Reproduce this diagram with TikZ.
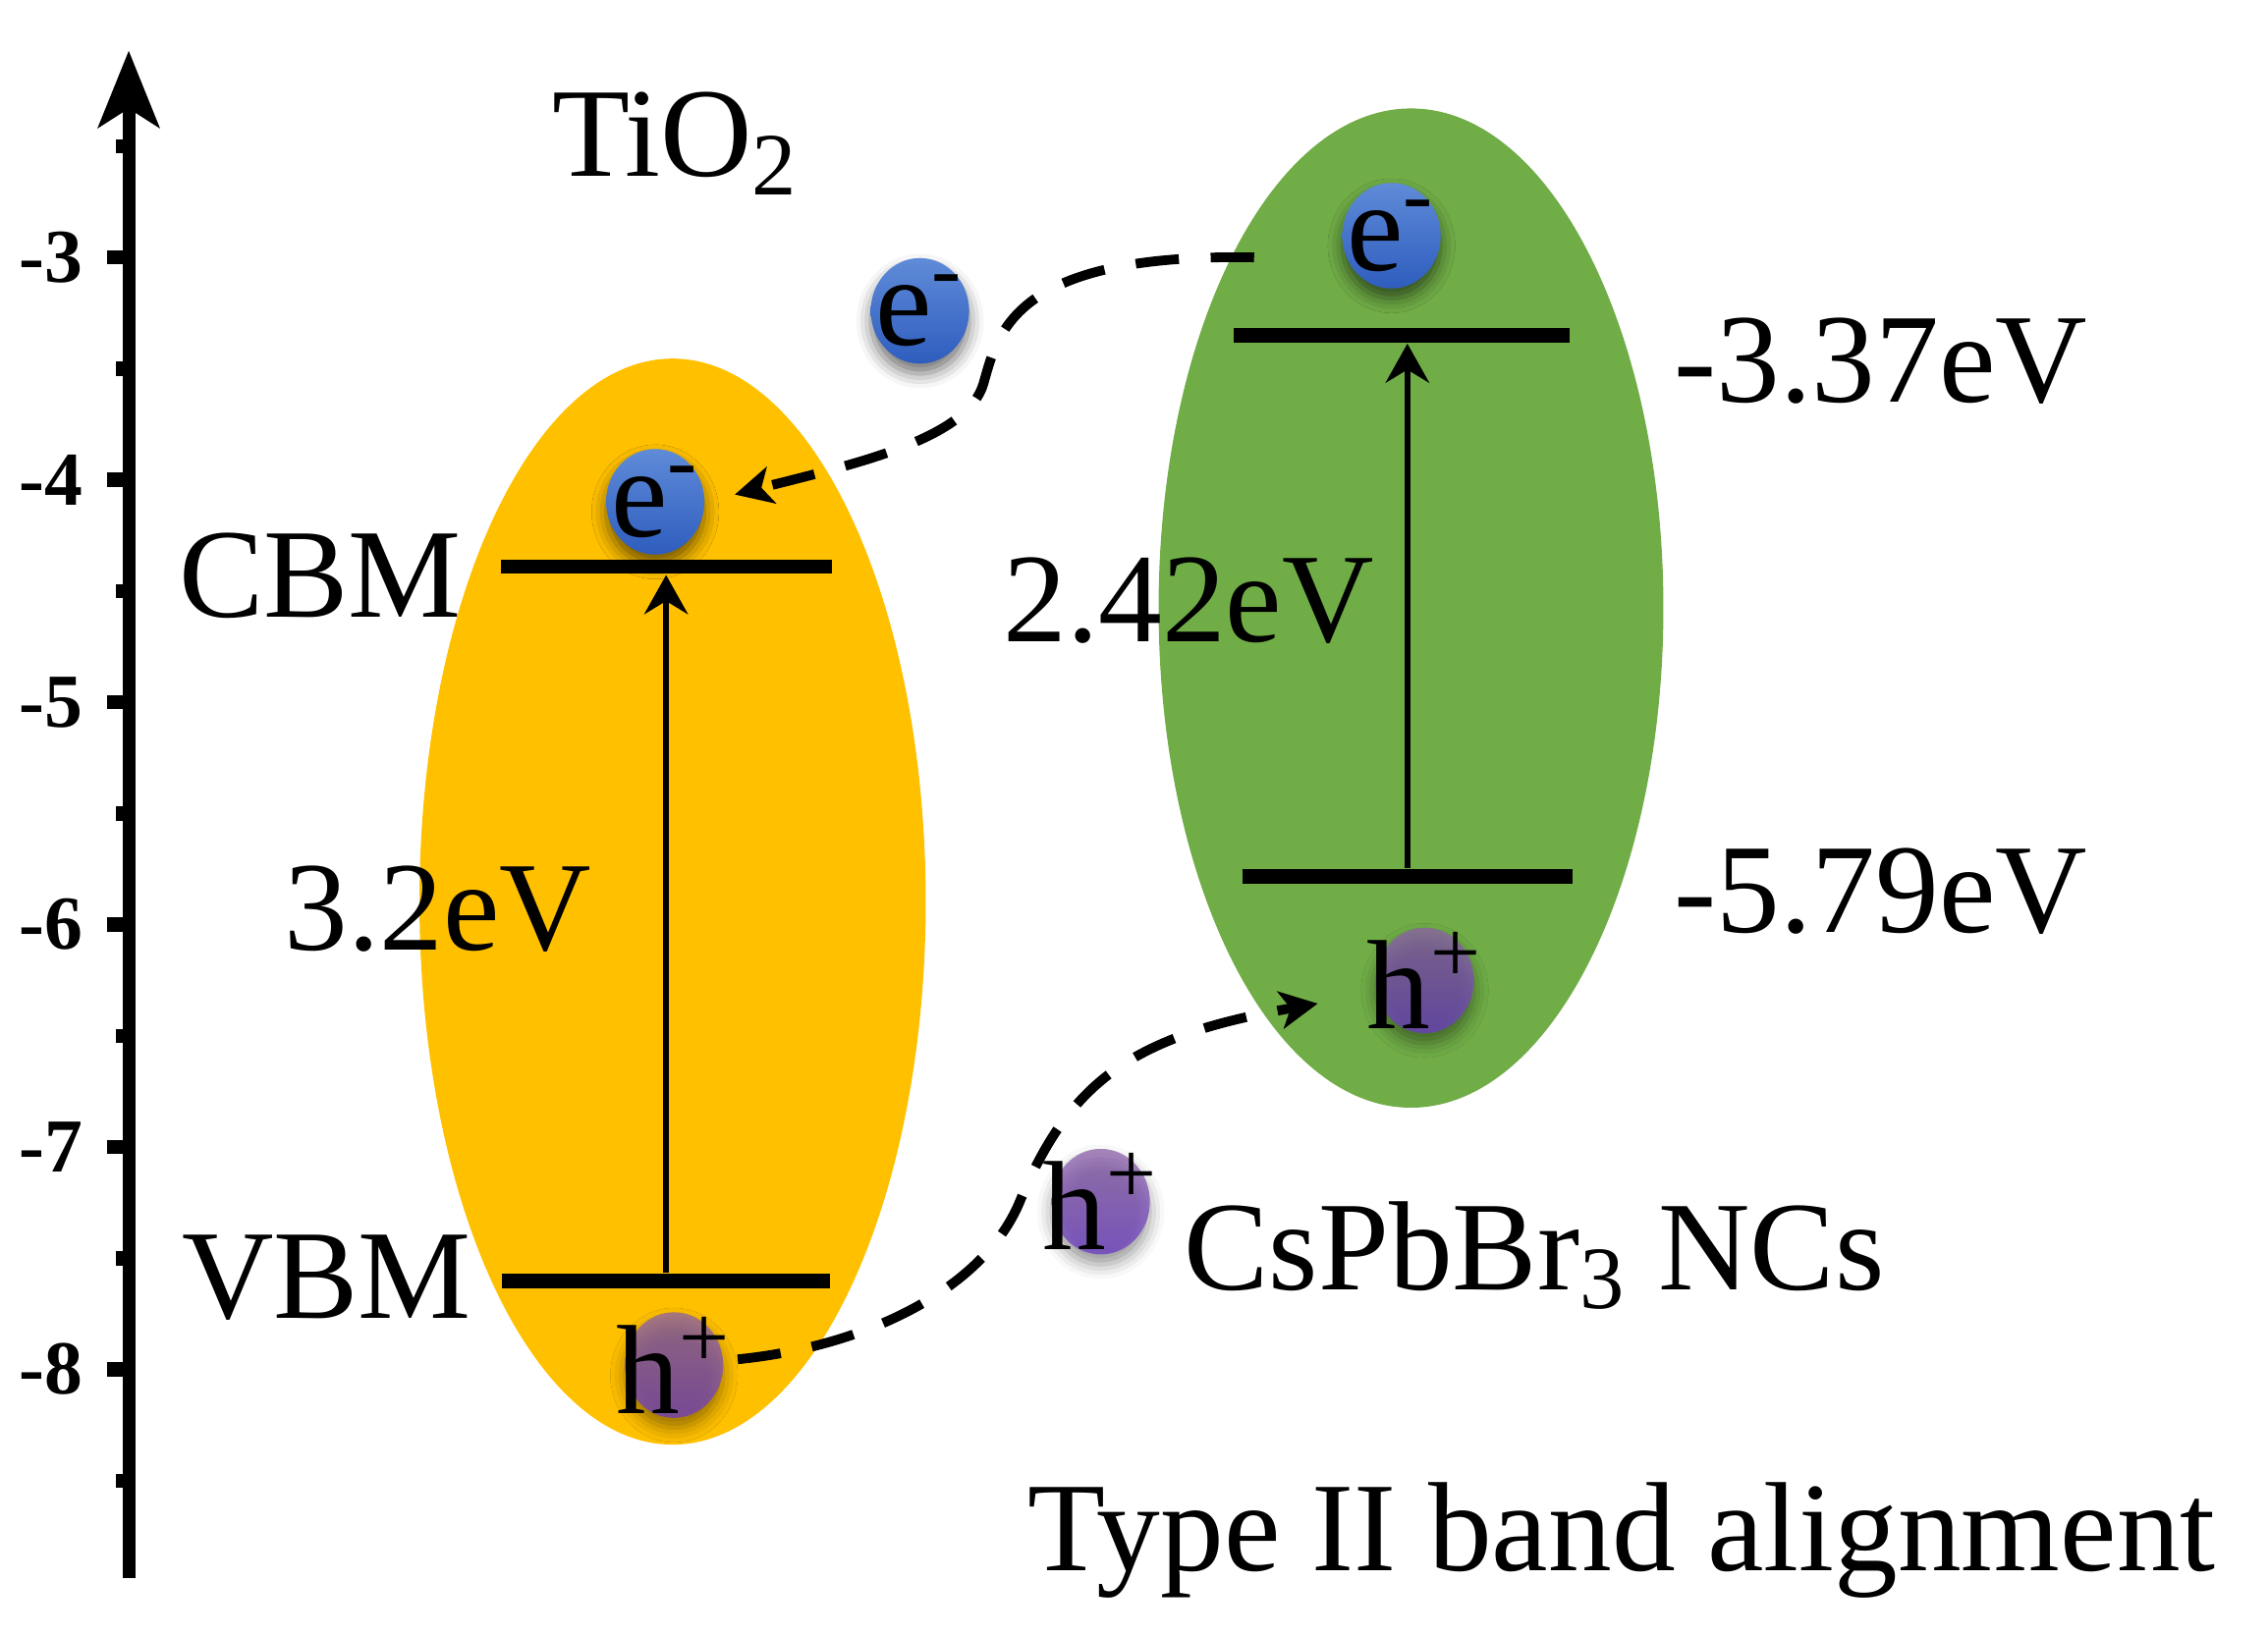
\documentclass[tikz,border=0pt]{standalone}
\usepackage{fontspec}
\setmainfont{Liberation Serif}
\usepackage{tikz}
\usetikzlibrary{arrows.meta,shapes.geometric,shadows.blur}

\definecolor{tioyellow}{HTML}{FFC000}
\definecolor{ncgreen}{HTML}{70AD47}
\definecolor{elight}{HTML}{5F8BD8}
\definecolor{edark}{HTML}{2E5DBE}
\definecolor{hlight}{HTML}{8D62A8}
\definecolor{hdark}{HTML}{6C3CC6}

\tikzset{
  txt/.style={font=\fontsize{25}{30}\selectfont, inner sep=0pt, anchor=base west},
  ptxt/.style={font=\fontsize{25}{30}\selectfont, inner sep=0pt, text opacity=1, fill opacity=1},
  axtick/.style={line width=2.8pt},
  bandline/.style={fill=black, inner sep=0pt, minimum height=2.8pt},
  gaparrow/.style={line width=1.2pt, -{Stealth[length=2.7mm,width=3mm,inset=0.9mm]}},
  transfer/.style={line width=1.9pt, dash pattern=on 3mm off 2.2mm, -{Stealth[length=2.6mm,width=2.6mm,inset=0.7mm]}},
  carrier/.style={ellipse, inner sep=0pt, minimum width=6.8mm, minimum height=7.3mm,
    blur shadow={shadow xshift=0pt, shadow yshift=-0.7mm, shadow blur radius=1mm, shadow opacity=55}},
  elec/.style={carrier, top color=elight, bottom color=edark, label={[ptxt]center:#1}},
  hole/.style={carrier, top color=hlight, bottom color=hdark, fill opacity=0.75, label={[ptxt]center:#1}}
}

\begin{document}
\begin{tikzpicture}
\useasboundingbox (0,0) rectangle (15.68,11.31);

% energy axis
\draw[line width=2.5pt,-{Stealth[length=5.3mm,width=4.2mm,inset=1.3mm]}] (0.89,0.40) -- (0.89,10.96);
\foreach \v in {-3,-4,...,-8}
  \draw[axtick] (0.89,{9.53+(\v+3)*1.538}) -- ++(-0.15,0)
    node[anchor=east,inner sep=0pt,xshift=-1.2mm,font=\bfseries\fontsize{15}{18}\selectfont] {\v};
\foreach \v in {-2.5,-3.5,...,-8.5}
  \draw[axtick] (0.89,{9.53+(\v+3)*1.538}) -- ++(-0.09,0);

% the two materials
\fill[tioyellow] (4.65,5.075) ellipse [x radius=1.75, y radius=3.755];
\fill[ncgreen] (9.755,7.105) ellipse [x radius=1.745, y radius=3.455];

\node[bandline, minimum width=2.29cm] (tcb) at (4.605,7.39) {};
\node[bandline, minimum width=2.27cm] (tvb) at (4.605,2.45) {};
\node[bandline, minimum width=2.32cm] (gcb) at (9.69,8.99) {};
\node[bandline, minimum width=2.28cm] (gvb) at (9.73,5.25) {};

\draw[gaparrow] (tvb) -- (tcb.south);
\draw[gaparrow] (gvb) -- (gvb |- gcb.south);

% charge transfer
\coordinate (eout) at (8.67,9.53);
\coordinate (ein) at (5.08,7.89);
\draw[transfer] (eout) .. controls (7.00,9.56) and (6.90,9.01) .. (6.80,8.66)
  .. controls (6.69,8.27) and (5.90,8.10) .. (ein);
\coordinate (hout) at (5.10,1.91);
\coordinate (hin) at (9.11,4.37);
\draw[transfer] (hout) .. controls (6.00,2.00) and (6.80,2.40) .. (7.05,3.00)
  .. controls (7.40,3.85) and (7.85,4.15) .. (hin);

\node[elec={e\textsuperscript{-}}] (e1) at (4.53,7.84) {};
\node[elec={e\textsuperscript{-}}] (e2) at (6.36,9.16) {};
\node[elec={e\textsuperscript{-}}] (e3) at (9.62,9.68) {};
\node[hole={h\textsuperscript{+}}] (h1) at (4.66,1.87) {};
\node[hole={h\textsuperscript{+}}] (h2) at (9.85,4.53) {};
\node[hole={h\textsuperscript{+}}] (h3) at (7.61,3.00) {};

% labels
\node[txt] (tio) at (3.81,10.09) {TiO\textsubscript{2}};
\node[txt] (cbm) at (1.23,7.04) {CBM};
\node[txt] (vbm) at (1.25,2.19) {VBM};
\node[txt] (tgap) at (1.96,4.74) {3.2eV};
\node[txt] (ggap) at (6.93,6.87) {2.42eV};
\node[txt] (gcbv) at (11.57,8.53) {-3.37eV};
\node[txt] (gvbv) at (11.57,4.86) {-5.79eV};
\node[txt] (cspb) at (8.18,2.39) {CsPbBr\textsubscript{3} NCs};
\node[txt] (kind) at (7.10,0.45) {Type II band alignment};

\end{tikzpicture}
\end{document}
